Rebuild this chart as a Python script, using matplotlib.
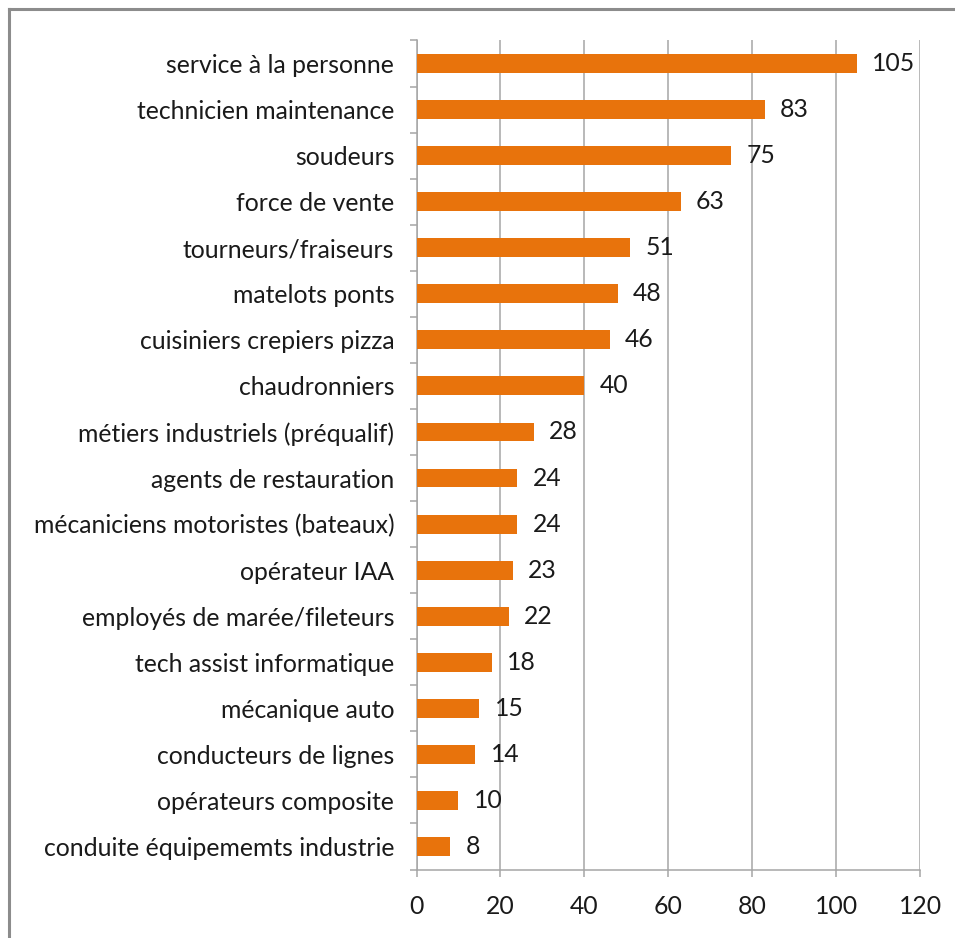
import matplotlib
matplotlib.use("Agg")
import matplotlib.pyplot as plt
import numpy as np

categories = [
    "service à la personne",
    "technicien maintenance",
    "soudeurs",
    "force de vente",
    "tourneurs/fraiseurs",
    "matelots ponts",
    "cuisiniers crepiers pizza",
    "chaudronniers",
    "métiers industriels (préqualif)",
    "agents de restauration",
    "mécaniciens motoristes (bateaux)",
    "opérateur IAA",
    "employés de marée/fileteurs",
    "tech assist informatique",
    "mécanique auto",
    "conducteurs de lignes",
    "opérateurs composite",
    "conduite équipememts industrie",
]
values = [105, 83, 75, 63, 51, 48, 46, 40, 28, 24, 24, 23, 22, 18, 15, 14, 10, 8]
xticks = [0, 20, 40, 60, 80, 100, 120]

plt.rcParams['font.family'] = ['Lato', 'DejaVu Sans']
W, H = 955, 938
fig = plt.figure(figsize=(W/100, H/100), dpi=100)

# figure border (top and left visible)
fig.add_artist(plt.Line2D([9/W, 1], [1-9/H, 1-9/H], transform=fig.transFigure, color='#8c8c8c', lw=2.2))
fig.add_artist(plt.Line2D([9/W, 9/W], [0, 1-9/H], transform=fig.transFigure, color='#8c8c8c', lw=2.2))

ax = fig.add_axes([416.5/W, 1-869.5/H, (920-416.5)/W, (869.5-40.5)/H])
n = len(categories)
ypos = np.arange(n)[::-1]
gc = '#a6a6a6'
fs = 17.8
ax.barh(ypos, values, height=0.41, color='#E8730C', zorder=3)
ax.set_xlim(0, 120)
ax.set_ylim(-0.5, n-0.5)
ax.set_xticks(xticks)
ax.set_xticklabels([str(v) for v in xticks])
ax.grid(axis='x', color=gc, lw=1.1, zorder=0)
ax.set_axisbelow(True)

# category boundaries as major ticks, labels on minor ticks
ax.set_yticks(np.arange(-0.5, n, 1.0))
ax.set_yticklabels([])
ax.set_yticks(ypos, minor=True)
ax.set_yticklabels(categories, minor=True, fontsize=fs, color='#1a1a1a')
ax.tick_params(axis='y', which='minor', length=0, pad=16)
ax.tick_params(axis='y', which='major', length=5, color=gc, width=1.1)
ax.tick_params(axis='x', length=5, color=gc, width=1.1, pad=13, labelsize=fs, labelcolor='#1a1a1a')

for s in ['top', 'right']:
    ax.spines[s].set_visible(False)
for s in ['left', 'bottom']:
    ax.spines[s].set_color(gc)
    ax.spines[s].set_linewidth(1.1)

for y, v in zip(ypos, values):
    ax.annotate(str(v), (v, y), xytext=(11, 0), textcoords='offset points',
                va='center', ha='left', fontsize=fs, color='#1a1a1a')

fig.savefig('out.png', dpi=100, facecolor='white')
